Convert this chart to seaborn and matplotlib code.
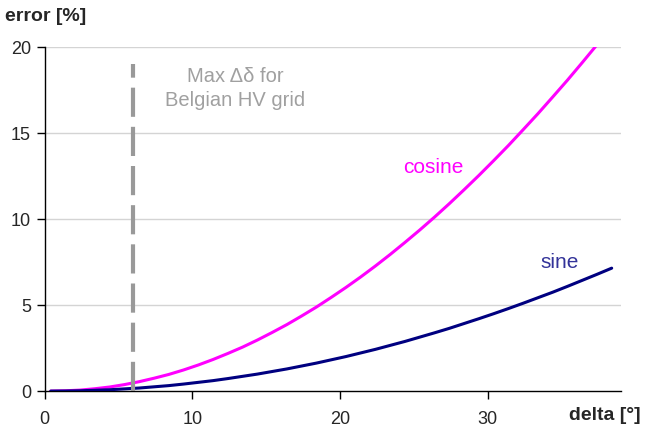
import matplotlib
matplotlib.use("Agg")
import matplotlib.pyplot as plt
import seaborn as sns
import pandas as pd

delta = [0.4, 1.4, 2.4, 3.4, 4.4, 5.4, 6.4, 7.4, 8.4, 9.4,
         10.4, 11.4, 12.4, 13.4, 14.4, 15.4, 16.4, 17.4, 18.4, 19.4,
         20.4, 21.4, 22.4, 23.4, 24.4, 25.4, 26.4, 27.4, 28.4, 29.4,
         30.4, 31.4, 32.4, 33.4, 34.4, 35.4, 36.4, 37.4, 38.4]
cosine = [0.00, 0.02, 0.06, 0.14, 0.24, 0.38, 0.55, 0.75, 0.97, 1.23,
          1.52, 1.84, 2.19, 2.56, 2.97, 3.41, 3.87, 4.37, 4.89, 5.45,
          6.03, 6.64, 7.28, 7.95, 8.65, 9.37, 10.12, 10.90, 11.71, 12.54,
          13.40, 14.28, 15.20, 16.13, 17.10, 18.08, 19.10, 20.14, 21.20]
sine = [0.00, 0.005, 0.02, 0.05, 0.08, 0.13, 0.18, 0.25, 0.32, 0.41,
        0.51, 0.61, 0.73, 0.86, 0.99, 1.14, 1.29, 1.46, 1.63, 1.82,
        2.01, 2.22, 2.43, 2.66, 2.89, 3.14, 3.39, 3.65, 3.93, 4.21,
        4.50, 4.80, 5.11, 5.43, 5.75, 6.09, 6.44, 6.79, 7.15]
max_delta = 6
x_ticks = [0, 10, 20, 30]
y_ticks = [0, 5, 10, 15, 20]

df = pd.DataFrame({
    "delta": delta * 2,
    "error": cosine + sine,
    "series": ["cosine"] * len(delta) + ["sine"] * len(delta),
})

sns.set_style("white")
plt.rcParams["font.family"] = ["Liberation Sans", "DejaVu Sans"]

fig = plt.figure(figsize=(6.55, 4.37), dpi=100)
ax = fig.add_axes([0.0684, 0.105, 0.879, 0.787])

ax.set_xlim(0, 39)
ax.set_ylim(0, 20)
for yv in y_ticks[1:]:
    ax.axhline(yv, color="#d4d4d4", lw=1.0, zorder=0)

sns.lineplot(data=df, x="delta", y="error", hue="series",
             palette={"cosine": "#ff00ff", "sine": "#000080"},
             lw=2.2, legend=False, ax=ax, zorder=3)

ax.plot([max_delta, max_delta], [0, 19], color="#999999", lw=3,
        dashes=(7, 2.4), zorder=4, solid_capstyle="butt", dash_capstyle="butt")

ax.text(12.9, 17.6, "Max \u0394\u03b4 for\nBelgian HV grid", color="#a0a0a0",
        fontsize=14.5, ha="center", va="center", linespacing=1.3)
ax.text(26.3, 13.0, "cosine", color="#ff00ff", fontsize=15, ha="center", va="center")
ax.text(34.9, 7.5, "sine", color="#333399", fontsize=15, ha="center", va="center")

ax.set_xticks(x_ticks)
ax.set_yticks(y_ticks)
ax.tick_params(axis="both", direction="out", length=6, width=1, color="#000000",
               labelsize=13, bottom=True, left=True, pad=4)
ax.tick_params(axis="x", pad=8)
for s in ["top", "right"]:
    ax.spines[s].set_visible(False)
for s in ["left", "bottom"]:
    ax.spines[s].set_color("#000000")
    ax.spines[s].set_linewidth(1.0)
ax.set_xlabel("")
ax.set_ylabel("")

fig.text(0.008, 0.963, "error [%]", fontsize=14, fontweight="bold", ha="left", va="center")
fig.text(0.978, 0.050, "delta [\u00b0]", fontsize=14, fontweight="bold", ha="right", va="center")

fig.savefig("out.png", dpi=100)
